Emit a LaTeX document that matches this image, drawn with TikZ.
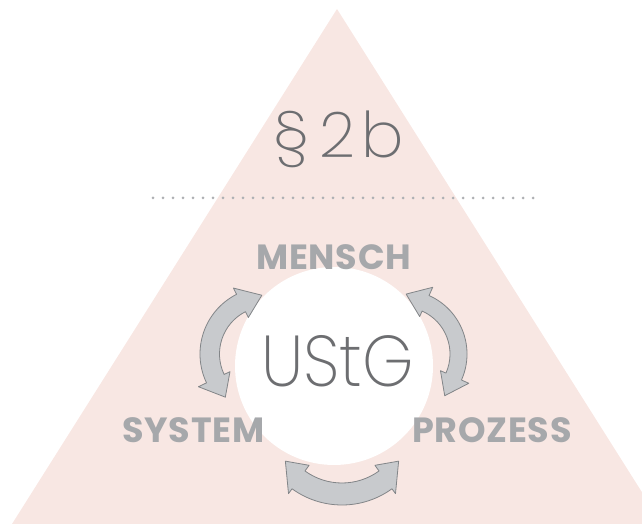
\documentclass[tikz,border=0pt]{standalone}
\usepackage{fontspec}
\newfontfamily\thinfont{Poppins ExtraLight}
\newfontfamily\labelfont{Poppins}[LetterSpace=2]
\definecolor{tri}{RGB}{248,231,227}
\definecolor{thin}{RGB}{109,110,113}
\definecolor{lab}{RGB}{166,168,171}
\definecolor{arrfill}{RGB}{200,202,205}
\definecolor{arrline}{RGB}{130,133,136}
\definecolor{dotc}{RGB}{174,176,179}
\tikzset{
  arrowshape/.style={fill=arrfill, draw=arrline, line width=0.8pt, line join=round},
  labeltext/.style={font=\labelfont\bfseries\fontsize{35}{35}\selectfont, text=lab, inner sep=0pt, anchor=base},
  thintext/.style={text=thin, inner sep=0pt, anchor=base},
}
\begin{document}
\begin{tikzpicture}[x=1pt,y=1pt]
\useasboundingbox (0,0) rectangle (642,524);
\begin{scope}
\clip (0,0) rectangle (642,524);
\fill[tri] (337,515) -- (12,0) -- (662,0) -- cycle;
\end{scope}
\node[circle, fill=white, minimum size=198pt, inner sep=0pt] (core) at (334,158) {};
% dotted rule
\coordinate (dl) at (153,326);
\coordinate (dr) at (536,326);
\draw[dotc, line width=3pt, line cap=round, dash pattern=on 0pt off 10pt] (dl) -- (dr);
% texts
\node[thintext, font=\thinfont\fontsize{63}{63}\selectfont] (para) at (338.5,366) {§\,2\kern6pt b};
\node[thintext, font=\thinfont\fontsize{72}{72}\selectfont, xscale=0.91] (ustg) at (337.7,137) {UStG};
\node[labeltext] (mensch) at (333.7,254.7) {MENSCH};
\node[labeltext] (system) at (193.3,81.3) {SYSTEM};
\node[labeltext] (prozess) at (492,81.3) {PROZESS};
% arrows
\begin{scope}[shift={(267,170)}]
\draw[arrowshape] (117:67) arc[start angle=117,end angle=205.5,radius=67] -- (205.5:76) -- (226:60) -- (205.5:41) -- (205.5:47.5) arc[start angle=205.5,end angle=117,radius=47.5] -- (117:41) -- (95:59) -- (117:74) -- cycle;
\end{scope}
\begin{scope}[shift={(403,170)}]
\draw[arrowshape] (-24:64) arc[start angle=-24,end angle=66,radius=64] -- (66:73) -- (87:60) -- (66:41) -- (66:47) arc[start angle=66,end angle=-24,radius=47] -- (-24:41) -- (-45:59) -- (-24:72) -- cycle;
\end{scope}
\begin{scope}[shift={(342,104)}]
\draw[arrowshape] (234:85) arc[start angle=234,end angle=306,radius=85] -- (306:91) -- (324:70) -- (306:56) -- (306:63) arc[start angle=306,end angle=234,radius=63] -- (234:56) -- (216:70) -- (234:91) -- cycle;
\end{scope}
\end{tikzpicture}
\end{document}
